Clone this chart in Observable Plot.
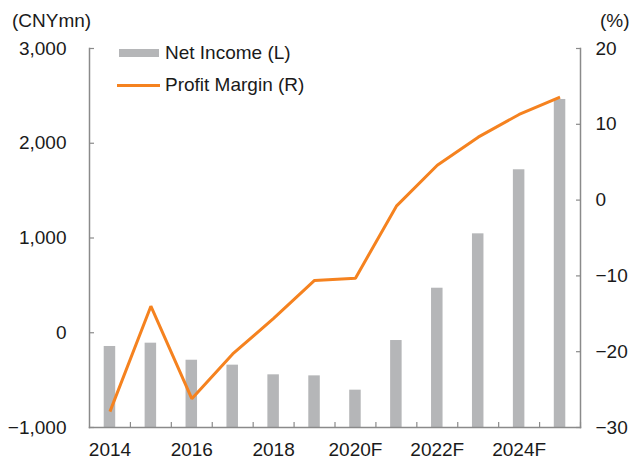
<!DOCTYPE html>
<html><head><meta charset="utf-8">
<script src="https://cdn.jsdelivr.net/npm/d3@7"></script>
<script src="https://cdn.jsdelivr.net/npm/@observablehq/plot@0.6"></script>
<style>
body{margin:0;background:#fff;}
#wrap{position:relative;width:629px;height:459px;font-family:"Liberation Sans",Arial,sans-serif;color:#1a1a1a;}
#wrap svg{position:absolute;left:0;top:0;}
.lab{position:absolute;font-size:19px;line-height:20px;white-space:nowrap;}
.sw{position:absolute;}
</style></head><body><div id="wrap"></div>
<script>
const years = ["2014","2015","2016","2017","2018","2019","2020F","2021F","2022F","2023F","2024F","2025F"];
const netIncome = [-145, -110, -290, -342, -444, -455, -606, -82, 470, 1044, 1720, 2462];
const profitMargin = [-27.9, -14.0, -26.2, -20.3, -15.6, -10.6, -10.3, -0.8, 4.6, 8.3, 11.3, 13.6];
const leftTicks = [-1000, 0, 1000, 2000, 3000];
const rightTicks = [-30, -20, -10, 0, 10, 20];
const xLabels = ["2014","2016","2018","2020F","2022F","2024F"];
const leftUnit = "(CNYmn)";
const rightUnit = "(%)";
const seriesNames = ["Net Income (L)", "Profit Margin (R)"];

const barColor = "#b5b6b8";
const lineColor = "#f5821f";
const axisColor = "#8a8a8a";

const lMin = d3.min(leftTicks), lMax = d3.max(leftTicks);
const rMin = d3.min(rightTicks), rMax = d3.max(rightTicks);
const toLeft = r => (r - rMin) / (rMax - rMin) * (lMax - lMin) + lMin;

const data = years.map((y, i) => ({year: y, ni: netIncome[i], pm: profitMargin[i]}));

const W = 629, H = 459, mL = 89, mR = 49, mT = 48, mB = 32;
const step = (W - mL - mR) / years.length;

const chart = Plot.plot({
  width: W, height: H,
  marginLeft: mL, marginRight: mR, marginTop: mT, marginBottom: mB,
  style: {fontFamily: '"Liberation Sans", Arial, sans-serif', fontSize: "19px", color: "#1a1a1a", background: "transparent"},
  x: {type: "band", domain: years, paddingInner: 0, paddingOuter: 0, round: false},
  y: {domain: [lMin, lMax]},
  marks: [
    Plot.barY(data, {x: "year", y1: lMin, y2: "ni", fill: barColor, insetLeft: (step - 11.5) / 2, insetRight: (step - 11.5) / 2}),
    Plot.line(data, {x: "year", y: d => toLeft(d.pm), stroke: lineColor, strokeWidth: 3, strokeLinejoin: "miter", strokeLinecap: "butt"}),
    Plot.frame({anchor: "left", stroke: axisColor, strokeWidth: 1.5}),
    Plot.frame({anchor: "right", stroke: axisColor, strokeWidth: 1.5}),
    Plot.frame({anchor: "bottom", stroke: axisColor, strokeWidth: 1.5}),
    Plot.axisY({anchor: "left", ticks: leftTicks, tickFormat: d3.format(","), tickSize: -5, tickPadding: 28, stroke: axisColor, strokeWidth: 1.2, label: null, fill: "#1a1a1a"}),
    Plot.axisY({anchor: "right", ticks: rightTicks.map(toLeft), tickFormat: v => d3.format(",")(Math.round((v - lMin) / (lMax - lMin) * (rMax - rMin) + rMin)), tickSize: -5, tickPadding: 20, stroke: axisColor, strokeWidth: 1.2, label: null, fill: "#1a1a1a"}),
    Plot.axisX({anchor: "bottom", ticks: years, tickFormat: () => "", tickSize: -5, dx: step / 2, stroke: axisColor, strokeWidth: 1.2, label: null}),
    Plot.axisX({anchor: "bottom", ticks: xLabels, tickSize: 0, tickPadding: 15, label: null, fill: "#1a1a1a"})
  ]
});

const wrap = document.getElementById("wrap");
wrap.appendChild(chart);

function addLabel(text, left, cy) {
  const d = document.createElement("div");
  d.className = "lab"; d.textContent = text;
  d.style.left = left + "px"; d.style.top = (cy - 10) + "px";
  wrap.appendChild(d);
}
function addSwatch(left, top, w, h, color) {
  const d = document.createElement("div");
  d.className = "sw";
  Object.assign(d.style, {left: left + "px", top: top + "px", width: w + "px", height: h + "px", background: color});
  wrap.appendChild(d);
}
addLabel(leftUnit, 12, 21);
addLabel(rightUnit, 600, 21);
addSwatch(119, 49, 40, 8, barColor);
addLabel(seriesNames[0], 165, 53);
addSwatch(117, 83.5, 43, 3, lineColor);
addLabel(seriesNames[1], 165, 85);
</script>
</body></html>
